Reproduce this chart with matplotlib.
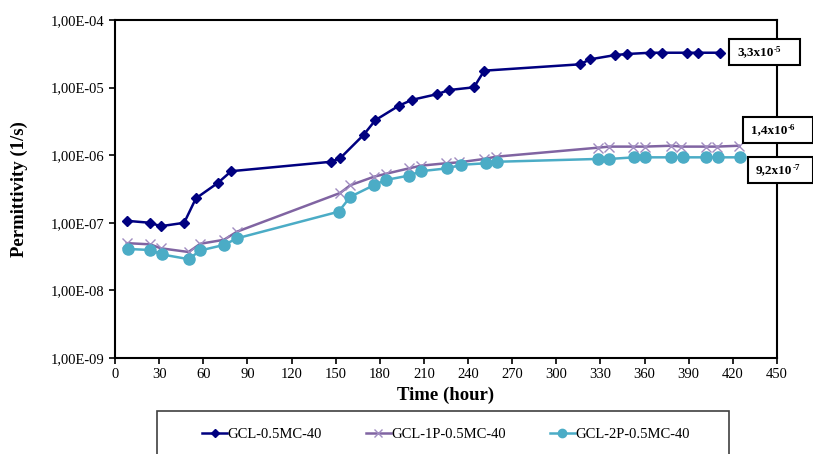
import numpy as np
import matplotlib.pyplot as plt
from matplotlib.patches import Rectangle
from matplotlib.ticker import FixedLocator, FuncFormatter, NullLocator

# GCL-0.5MC-40
t_a = [8, 24, 31, 47, 55, 70, 79, 147, 153, 169, 177, 193, 202, 219, 227, 244,
       251, 316, 323, 340, 348, 364, 372, 389, 396, 411]
p_a = [1.07e-7, 1.0e-7, 8.9e-8, 1.0e-7, 2.3e-7, 3.9e-7, 5.8e-7, 8.0e-7, 9.0e-7,
       2.0e-6, 3.3e-6, 5.4e-6, 6.6e-6, 8.0e-6, 9.2e-6, 1.01e-5, 1.78e-5, 2.21e-5,
       2.62e-5, 3.03e-5, 3.14e-5, 3.28e-5, 3.28e-5, 3.28e-5, 3.28e-5, 3.28e-5]

# GCL-1P-0.5MC-40
t_b = [8, 24, 31, 50, 58, 74, 83, 153, 160, 176, 184, 200, 208, 225, 234, 251,
       259, 328, 336, 352, 360, 378, 385, 402, 409, 424]
p_b = [5.0e-8, 4.8e-8, 4.2e-8, 3.7e-8, 4.9e-8, 5.6e-8, 7.4e-8, 2.76e-7, 3.6e-7,
       4.8e-7, 5.3e-7, 6.4e-7, 7.0e-7, 7.6e-7, 7.85e-7, 8.8e-7, 9.5e-7, 1.29e-6,
       1.34e-6, 1.34e-6, 1.34e-6, 1.38e-6, 1.34e-6, 1.34e-6, 1.34e-6, 1.38e-6]

# GCL-2P-0.5MC-40
t_c = [9, 24, 32, 50, 58, 74, 83, 152, 160, 176, 184, 200, 208, 226, 235, 252,
       260, 328, 336, 353, 360, 378, 386, 402, 410, 425]
p_c = [4.1e-8, 3.96e-8, 3.4e-8, 2.9e-8, 3.9e-8, 4.7e-8, 5.9e-8, 1.46e-7, 2.43e-7,
       3.6e-7, 4.3e-7, 5.0e-7, 5.8e-7, 6.4e-7, 7.2e-7, 7.6e-7, 8.0e-7, 8.8e-7,
       8.8e-7, 9.3e-7, 9.3e-7, 9.3e-7, 9.3e-7, 9.3e-7, 9.3e-7, 9.3e-7]

series_labels = ['GCL-0.5MC-40', 'GCL-1P-0.5MC-40', 'GCL-2P-0.5MC-40']
end_base = ['3,3x10', '1,4x10', '9,2x10']
end_exp = ['-5', '-6', '-7']
x_ticks = list(range(0, 451, 30))
y_ticks = [1e-9, 1e-8, 1e-7, 1e-6, 1e-5, 1e-4]

plt.rcParams['font.family'] = ['Liberation Serif', 'DejaVu Serif']

W, H = 813, 454
fig = plt.figure(figsize=(W / 100, H / 100), dpi=100)
ax = fig.add_axes([115 / W, 1 - 358 / H, (777 - 115) / W, (358 - 20) / H])

l1, = ax.plot(t_a, p_a, color='#000080', lw=1.8, marker='D', ms=5.5, label=series_labels[0])
l2, = ax.plot(t_b, p_b, color='#8064A2', lw=1.8, marker='x', ms=7, mew=1.0,
              mec='#A08CC0', label=series_labels[1])
l3, = ax.plot(t_c, p_c, color='#4BACC6', lw=1.8, marker='o', ms=8, label=series_labels[2])

ax.set_yscale('log')
ax.set_ylim(1e-9, 1e-4)
ax.set_xlim(0, 450)
ax.yaxis.set_major_locator(FixedLocator(y_ticks))
ax.yaxis.set_minor_locator(NullLocator())
ax.yaxis.set_major_formatter(FuncFormatter(
    lambda v, p: '1,00E-%02d' % round(-np.log10(v))))
ax.set_xticks(x_ticks)

ax.tick_params(axis='both', labelsize=10.5, length=4, width=1.2, direction='out')
ax.tick_params(axis='x', pad=3)
for s in ax.spines.values():
    s.set_linewidth(1.5)
    s.set_color('black')

ax.set_xlabel('Time (hour)', fontsize=13.5, fontweight='bold', labelpad=4)
ax.set_ylabel('Permittivity (1/s)', fontsize=13.5, fontweight='bold')
ax.yaxis.set_label_coords((28 - 115) / 662, 0.5)

# end value boxes
boxes = [(729, 39, 800, 65), (743, 117, 813, 143), (748, 157, 813, 183)]
for (x0, y0, x1, y1), base, ex in zip(boxes, end_base, end_exp):
    fig.patches.append(Rectangle((x0 / W, 1 - y1 / H), (x1 - x0) / W, (y1 - y0) / H,
                                 transform=fig.transFigure, fill=True, fc='white',
                                 ec='black', lw=1.5, zorder=5))
    t = fig.text((x0 + 8) / W, 1 - (y0 + y1) / 2 / H, base, fontsize=9.5,
                 fontweight='bold', ha='left', va='center', zorder=6)
    fig.canvas.draw()
    bb = t.get_window_extent()
    fig.text(bb.x1 / W, (bb.y1 - 4) / H, ex, fontsize=6.5, fontweight='bold',
             ha='left', va='center', zorder=6)

# legend box
fig.patches.append(Rectangle((157 / W, -0.05), (729 - 157) / W, 0.05 + (454 - 411) / H,
                             transform=fig.transFigure, fill=False, ec='#404040', lw=1.2))
fig.legend(handles=[l1, l2, l3], loc='center', bbox_to_anchor=(446 / W, 1 - 434 / H),
           ncol=3, frameon=False, fontsize=10.5, handlelength=1.7, handletextpad=0.05,
           columnspacing=3.0, markerscale=0.75)

fig.savefig('out.png', dpi=100)
